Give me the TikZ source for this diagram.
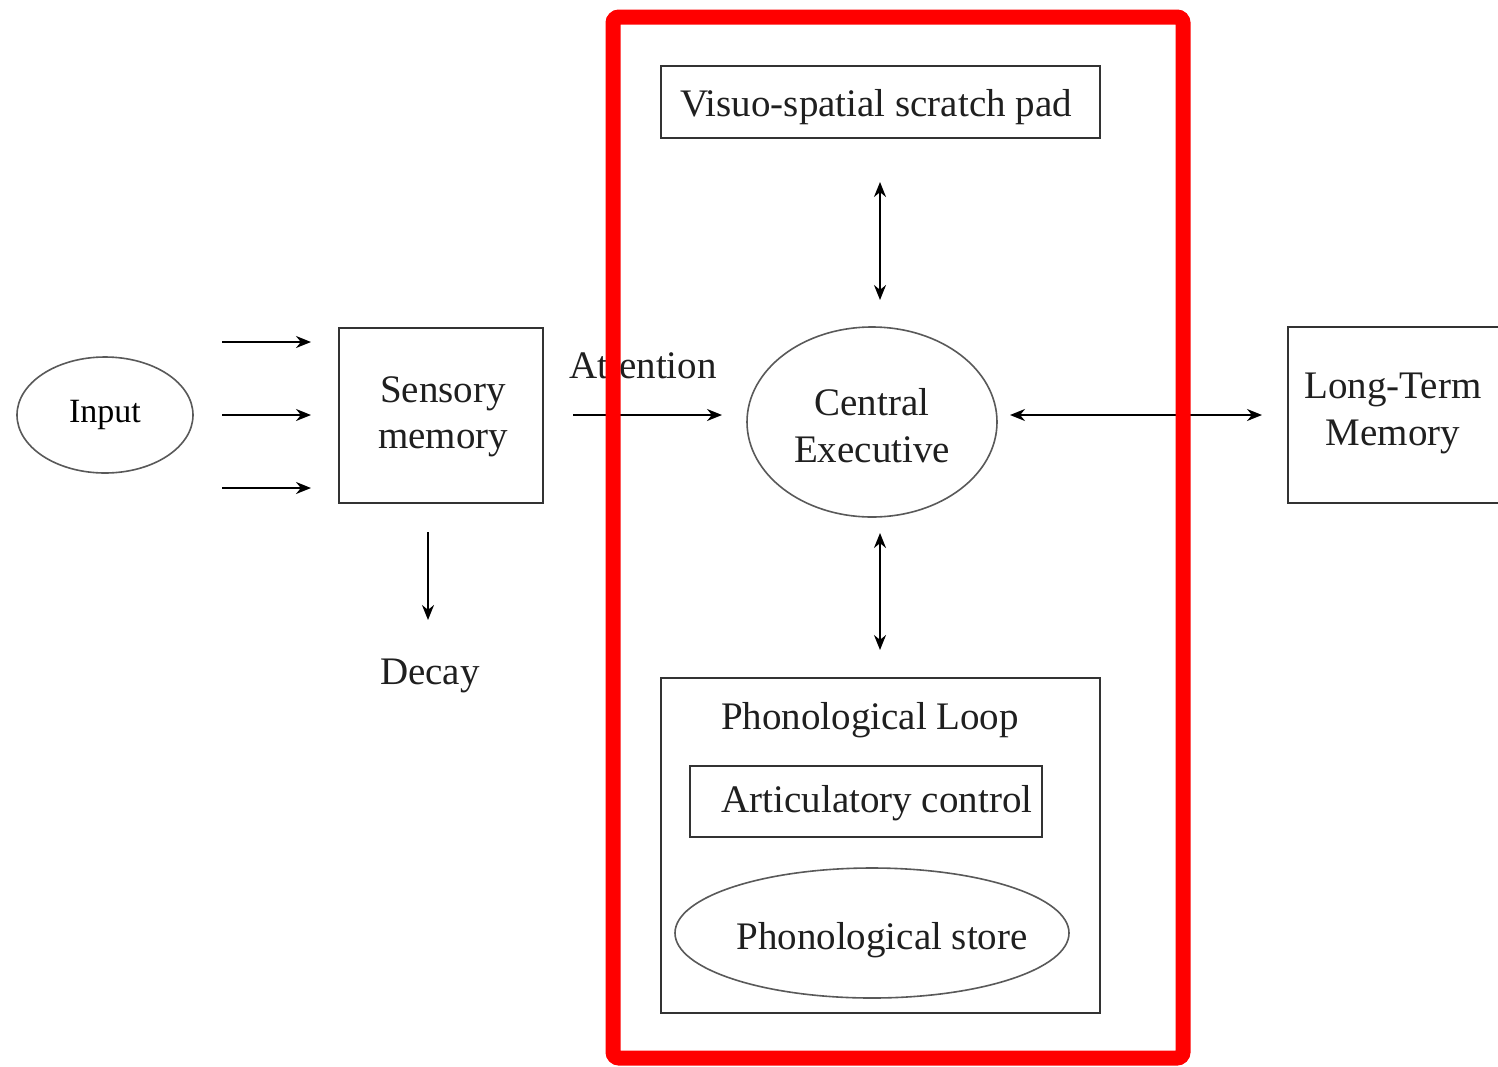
\documentclass[tikz,border=0pt]{standalone}
\usepackage{fontspec}
\setmainfont{Liberation Serif}
\usetikzlibrary{shapes.geometric,arrows.meta}
\begin{document}
\begin{tikzpicture}[x=1pt,y=-1pt,
  box/.style={draw=black!80,line width=1.8pt,inner sep=0pt},
  oval/.style={ellipse,draw=black!65,line width=1.6pt,inner sep=0pt},
  lbl/.style={font=\fontsize{39}{44}\selectfont,align=center,text=black!88},
  arr/.style={line width=2pt,-{Stealth[length=15pt,width=12pt]}},
  darr/.style={line width=2pt,{Stealth[length=15pt,width=12pt]}-{Stealth[length=15pt,width=12pt]}}]
\useasboundingbox[fill=white] (0,0) rectangle (1498,1066);
% Input
\node[oval,minimum width=176pt,minimum height=116pt,font=\fontsize{34}{38}\selectfont] (input) at (105,415) {Input};
% three input arrows
\coordinate (a1s) at (222,342); \coordinate (a1e) at (311,342);
\coordinate (a2s) at (222,415); \coordinate (a2e) at (311,415);
\coordinate (a3s) at (222,488); \coordinate (a3e) at (311,488);
\draw[arr] (a1s) -- (a1e);
\draw[arr] (a2s) -- (a2e);
\draw[arr] (a3s) -- (a3e);
% Sensory memory
\node[box,minimum width=204pt,minimum height=175pt] (sens) at (441,415.5) {};
\node[lbl,font=\fontsize{39}{46}\selectfont] at (443,417) {Sensory\\memory};
% Decay
\coordinate (decs) at (428,532);
\node[lbl] (decay) at (430,676) {Decay};
\draw[arr] (decs) -- (428,620);
% Attention
\node[lbl] (att) at (643,366) {Attention};
\coordinate (atts) at (573,415);
% Central executive
\node[oval,minimum width=250pt,minimum height=190pt] (ce) at (872,422) {};
\node[lbl,font=\fontsize{39}{47}\selectfont] at (872,426) {Central\\Executive};
\draw[arr] (atts) -- (722,415);
% Visuo-spatial
\node[box,minimum width=439pt,minimum height=72pt] (vs) at (880.5,102) {};
\node[lbl] at (876,107) {Visuo-spatial scratch pad};
\draw[darr] (880,182) -- (880,300);
% Phonological loop
\node[box,minimum width=439pt,minimum height=335pt] (pl) at (880.5,845.5) {};
\node[lbl] at (870,720) {Phonological Loop};
\node[box,minimum width=352pt,minimum height=71pt] (ac) at (866,801.5) {};
\node[lbl] at (877,803) {Articulatory control};
\node[oval,minimum width=394pt,minimum height=130pt] (ps) at (872,933) {};
\node[lbl] at (882,940) {Phonological store};
\draw[darr] (880,533) -- (880,650);
% Long-term memory
\node[box,minimum width=240pt,minimum height=176pt] (ltm) at (1408,415) {};
\node[lbl,font=\fontsize{39}{47}\selectfont] at (1393,413) {Long-Term\\Memory};
\draw[darr] (1010,415) -- (1262,415);
% red frame
\draw[red,line width=15pt,rounded corners=6pt] (613,17) rectangle (1183,1058);
\end{tikzpicture}
\end{document}
